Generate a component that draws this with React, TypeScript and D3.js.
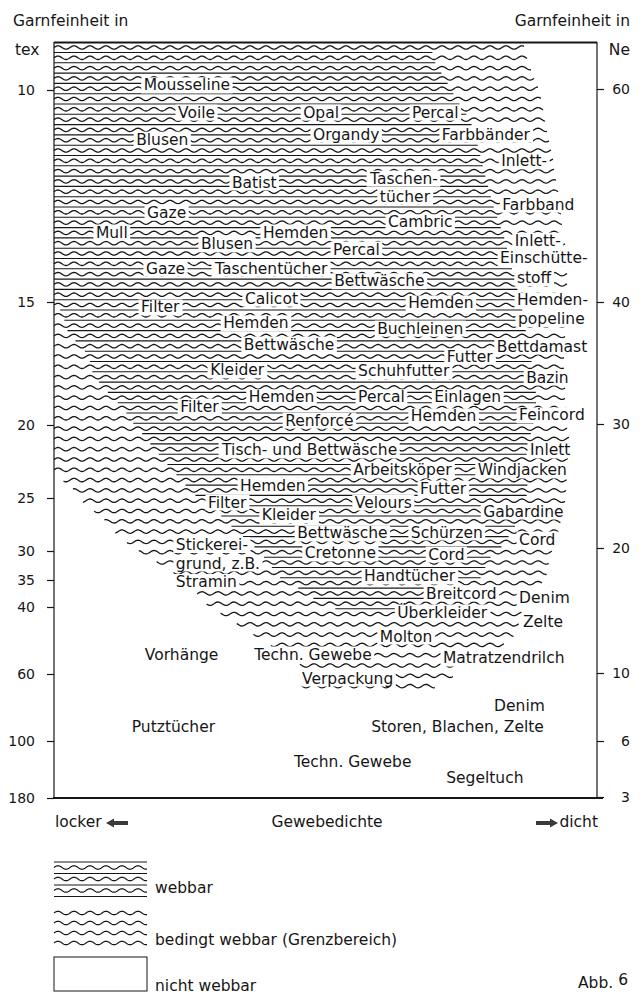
import React, { useEffect, useRef } from "react";
import * as d3 from "d3";

// Achsen
const texTicks = [10, 15, 20, 25, 30, 35, 40, 60, 100, 180];
const neTicks = [60, 40, 30, 20, 10, 6, 3];

// bedingt webbar (Wellenlinien): Garnfeinheit tex -> Gewebedichte links / rechts (0..100)
const bedingtTex = [8.89, 10.24, 10.94, 11.65, 12.59, 13.54, 14.48, 15.73, 17.36, 18.98, 21.03, 23.08, 24.11, 25.66, 27.74, 29.62, 32.59, 35, 38.7, 44.48, 50.75, 55.82, 60.6, 70.75];
const bedingtLinks = [0, 0, 0, 0, 0, 0, 0, 0, 0, 0, 0, 0, 2.6, 6.3, 10.3, 14.5, 20.0, 24.1, 27.4, 32.9, 39.2, 45.2, 45.2, 45.2];
const bedingtRechts = [86.2, 89.7, 90.8, 91.7, 93.0, 93.9, 94.5, 94.1, 93.8, 94.1, 94.7, 94.5, 94.3, 93.9, 93.0, 91.7, 90.8, 90.3, 86.6, 85.7, 83.8, 74.6, 73.7, 68.2];

// webbar (Wellen + gerade Linien)
const webbarTex = [8.89, 9.34, 9.81, 10.35, 10.71, 11.3, 11.89, 12.71, 13.54, 14.48, 14.95, 15.45, 16.26, 17.15, 17.97, 18.78, 19.31, 20.21, 21.71, 23.08, 24.45, 26.32, 28.02, 29.43, 31.55, 34.31, 36.67, 39.26, 40.9];
const webbarLinks = [0, 0, 0, 0, 0, 0, 0, 0, 0, 0, 0, 1.5, 2.6, 6.3, 7.2, 10.3, 12.7, 15.4, 18.6, 21.7, 25.0, 30.0, 33.3, 36.6, 39.2, 41.0, 45.2, 48.9, 52.6];
const webbarRechts = [69.1, 70.0, 72.2, 74.6, 76.5, 77.9, 79.0, 80.7, 82.9, 84.7, 85.7, 86.2, 86.8, 87.5, 88.4, 88.6, 88.6, 87.9, 86.9, 86.8, 87.1, 86.0, 84.4, 82.5, 79.6, 78.9, 75.2, 72.2, 67.3];

// Gewebe
const gewebe = [
  "Mousseline", "Voile", "Opal", "Percal", "Blusen", "Organdy", "Farbbänder", "Inlett-", "Batist", "Taschen-",
  "tücher", "Farbband", "Gaze", "Cambric", "Mull", "Hemden", "Blusen", "Inlett-", "Percal", "Einschütte-",
  "Gaze", "Taschentücher", "stoff", "Bettwäsche", "Calicot", "Filter", "Hemden", "Hemden-", "Hemden", "popeline",
  "Buchleinen", "Bettwäsche", "Bettdamast", "Futter", "Kleider", "Schuhfutter", "Bazin", "Hemden", "Percal", "Einlagen",
  "Filter", "Renforcé", "Hemden", "Feincord", "Tisch- und Bettwäsche", "Inlett", "Arbeitsköper", "Windjacken", "Hemden", "Futter",
  "Filter", "Velours", "Kleider", "Gabardine", "Bettwäsche", "Schürzen", "Cord", "Stickerei-", "Cretonne", "Cord",
  "grund, z.B.", "Stramin", "Handtücher", "Breitcord", "Denim", "Überkleider", "Zelte", "Molton", "Vorhänge", "Techn. Gewebe",
  "Matratzendrilch", "Verpackung", "Denim", "Putztücher", "Storen, Blachen, Zelte", "Techn. Gewebe", "Segeltuch",
];
const gewebeDichte = [
  16.5, 22.8, 45.8, 65.8, 15.1, 47.6, 71.3, 82.2, 32.7, 58.1,
  59.9, 82.4, 17.1, 61.4, 7.7, 38.4, 27.0, 84.7, 51.3, 82.0,
  16.9, 29.6, 85.1, 51.5, 35.1, 16.0, 65.1, 85.1, 31.1, 85.3,
  59.4, 34.9, 81.4, 72.2, 28.7, 55.9, 86.8, 35.8, 55.9, 69.9,
  23.2, 42.5, 65.6, 85.5, 30.9, 87.5, 55.0, 77.9, 34.2, 67.3,
  28.3, 55.3, 38.2, 78.9, 44.7, 65.6, 85.5, 22.4, 46.1, 68.8,
  22.4, 22.4, 57.0, 68.4, 85.5, 63.1, 86.2, 59.9, 16.7, 36.8,
  71.5, 45.6, 80.9, 14.3, 58.3, 44.1, 72.1,
];
const gewebeTex = [
  9.88, 10.52, 10.52, 10.52, 11.16, 11.04, 11.04, 11.67, 12.17, 12.08,
  12.5, 12.69, 12.88, 13.11, 13.35, 13.35, 13.63, 13.54, 13.75, 13.96,
  14.2, 14.2, 14.43, 14.5, 14.91, 15.2, 15.04, 14.95, 15.85, 15.69,
  16.06, 16.71, 16.79, 17.2, 17.76, 17.8, 18.05, 18.86, 18.86, 18.86,
  19.23, 19.8, 19.63, 19.59, 21.71, 21.71, 23.08, 23.08, 24.11, 24.32,
  25.38, 25.38, 26.6, 26.23, 28.3, 28.21, 28.87, 29.39, 30.34, 30.52,
  32.07, 35.28, 34.31, 37.41, 38.33, 41.79, 44.18, 48.66, 54.03, 54.03,
  55.22, 62.39, 79.1, 91.64, 91.64, 129.47, 150.53,
];

const legendTexte = ["webbar", "bedingt webbar (Grenzbereich)", "nicht webbar"];

const FONT = "DejaVu Sans, Verdana, sans-serif";
const INK = "#161616";

export default function App() {
  const ref = useRef<SVGSVGElement>(null);

  useEffect(() => {
    const svg = d3.select(ref.current);
    svg.selectAll("*").remove();

    const left = 54, right = 597, top = 42, bottom = 798;
    const x = d3.scaleLinear().domain([0, 100]).range([54, 598]);
    const y = d3.scaleLinear().domain(texTicks).range([90, 302, 425, 498, 551, 580, 607, 674, 741, 798]);
    const yNe = d3.scaleLinear().domain(neTicks).range([89, 302, 424, 548, 673, 741, 797]);

    const bL = d3.scaleLinear().domain(bedingtTex).range(bedingtLinks);
    const bR = d3.scaleLinear().domain(bedingtTex).range(bedingtRechts);
    const wL = d3.scaleLinear().domain(webbarTex).range(webbarLinks);
    const wR = d3.scaleLinear().domain(webbarTex).range(webbarRechts);

    const amp = 1.7, lambda = 16;
    const line = d3.line();
    const wave = (x0: number, x1: number, yy: number) =>
      line(d3.range(x0, x1 + 0.01, 1).map((xx) => [xx, yy - amp * Math.sin(((xx - left) / lambda) * 2 * Math.PI)] as [number, number]));

    const muster = svg.append("g").attr("fill", "none").attr("stroke", INK);

    d3.range(47.5, 692, 10.3).forEach((ry) => {
      const t = y.invert(ry);
      if (t >= bedingtTex[0] && t <= bedingtTex[bedingtTex.length - 1]) {
        const xa = x(bL(t)), xb = x(bR(t));
        if (xb > xa) muster.append("path").attr("d", wave(xa, xb, ry)).attr("stroke-width", 1.3);
      }
      const sy = ry + 5;
      const ts = y.invert(sy);
      if (ts >= webbarTex[0] && ts <= webbarTex[webbarTex.length - 1]) {
        const xa = x(wL(ts)), xb = x(wR(ts));
        if (xb > xa) muster.append("line").attr("x1", xa).attr("x2", xb).attr("y1", sy).attr("y2", sy).attr("stroke-width", 1.1);
      }
    });

    // Rahmen
    const rahmen = svg.append("g").attr("stroke", INK).attr("fill", "none");
    rahmen.append("line").attr("x1", left).attr("x2", left).attr("y1", top).attr("y2", bottom).attr("stroke-width", 1.2);
    rahmen.append("line").attr("x1", right).attr("x2", right).attr("y1", top).attr("y2", bottom).attr("stroke-width", 1.2);
    rahmen.append("line").attr("x1", left).attr("x2", right).attr("y1", top + 0.5).attr("y2", top + 0.5).attr("stroke-width", 2);
    rahmen.append("line").attr("x1", left - 1).attr("x2", right + 6).attr("y1", bottom).attr("y2", bottom).attr("stroke-width", 2);

    // Achsen
    const axL = svg.append("g").attr("transform", `translate(${left},0)`)
      .call(d3.axisLeft(y).tickValues(texTicks).tickSize(7).tickPadding(12).tickFormat(d3.format("d")));
    axL.select(".domain").remove();
    const axR = svg.append("g").attr("transform", `translate(${right},0)`)
      .call(d3.axisRight(yNe).tickValues(neTicks).tickSize(7).tickFormat(d3.format("d")));
    axR.select(".domain").remove();
    axR.selectAll("text").attr("text-anchor", "end").attr("x", 33);
    svg.selectAll(".tick line").attr("stroke", INK).attr("stroke-width", 1.2);
    svg.selectAll(".tick text").attr("font-family", FONT).attr("font-size", 14).attr("fill", INK);

    const txt = (s: string, tx: number, ty: number, anchor = "start") =>
      svg.append("text").attr("x", tx).attr("y", ty).attr("text-anchor", anchor)
        .attr("font-family", FONT).attr("font-size", 15.5).attr("fill", INK).text(s);

    txt("Garnfeinheit in", 13, 26);
    txt("tex", 15, 55);
    txt("Garnfeinheit in", 630, 26, "end");
    txt("Ne", 630, 55, "end");

    // Gewebe-Beschriftungen mit weißem Hintergrund
    const lab = svg.append("g");
    gewebe.forEach((name, i) => {
      const g = lab.append("g");
      const r = g.append("rect").attr("fill", "#fff");
      const t = g.append("text")
        .attr("x", x(gewebeDichte[i]))
        .attr("y", y(gewebeTex[i]) + 5.5)
        .attr("font-family", FONT).attr("font-size", 15.5).attr("fill", INK)
        .text(name);
      const bb = (t.node() as SVGTextElement).getBBox();
      r.attr("x", bb.x - 2.5).attr("y", bb.y + 1).attr("width", bb.width + 5).attr("height", bb.height - 2);
    });

    // Gewebedichte
    txt("locker", 55, 827);
    txt("Gewebedichte", 327, 827, "middle");
    txt("dicht", 598, 827, "end");
    const pfeil = (x0: number, dir: number) => {
      const p = d3.path();
      const hx = x0, len = 22, head = 8;
      p.moveTo(hx, 823);
      p.lineTo(hx + dir * head, 818.5);
      p.lineTo(hx + dir * head, 821);
      p.lineTo(hx + dir * len, 821);
      p.lineTo(hx + dir * len, 825);
      p.lineTo(hx + dir * head, 825);
      p.lineTo(hx + dir * head, 827.5);
      p.closePath();
      svg.append("path").attr("d", p.toString()).attr("fill", "#3a3a3a");
    };
    pfeil(106, 1);
    pfeil(558, -1);

    // Legende
    const leg = svg.append("g").attr("fill", "none").attr("stroke", INK);
    [862, 873.5, 885, 896.5].forEach((ly) =>
      leg.append("line").attr("x1", 54).attr("x2", 147).attr("y1", ly).attr("y2", ly).attr("stroke-width", 1));
    [867.5, 879, 890.5].forEach((ly) => leg.append("path").attr("d", wave(54, 147, ly)).attr("stroke-width", 1.2));
    [913, 923, 933, 943].forEach((ly) => leg.append("path").attr("d", wave(54, 147, ly)).attr("stroke-width", 1.2));
    leg.append("rect").attr("x", 54).attr("y", 957).attr("width", 93).attr("height", 34).attr("stroke-width", 1);

    txt(legendTexte[0], 155, 893);
    txt(legendTexte[1], 155, 945);
    txt(legendTexte[2], 155, 991);
    const abb = txt("Abb. ", 578, 988);
    abb.append("tspan").attr("dy", -3).text("6");
  }, []);

  return (
    <svg
      ref={ref}
      width={642}
      height={994}
      style={{ position: "absolute", left: 0, top: 0, background: "#fff" }}
    />
  );
}
